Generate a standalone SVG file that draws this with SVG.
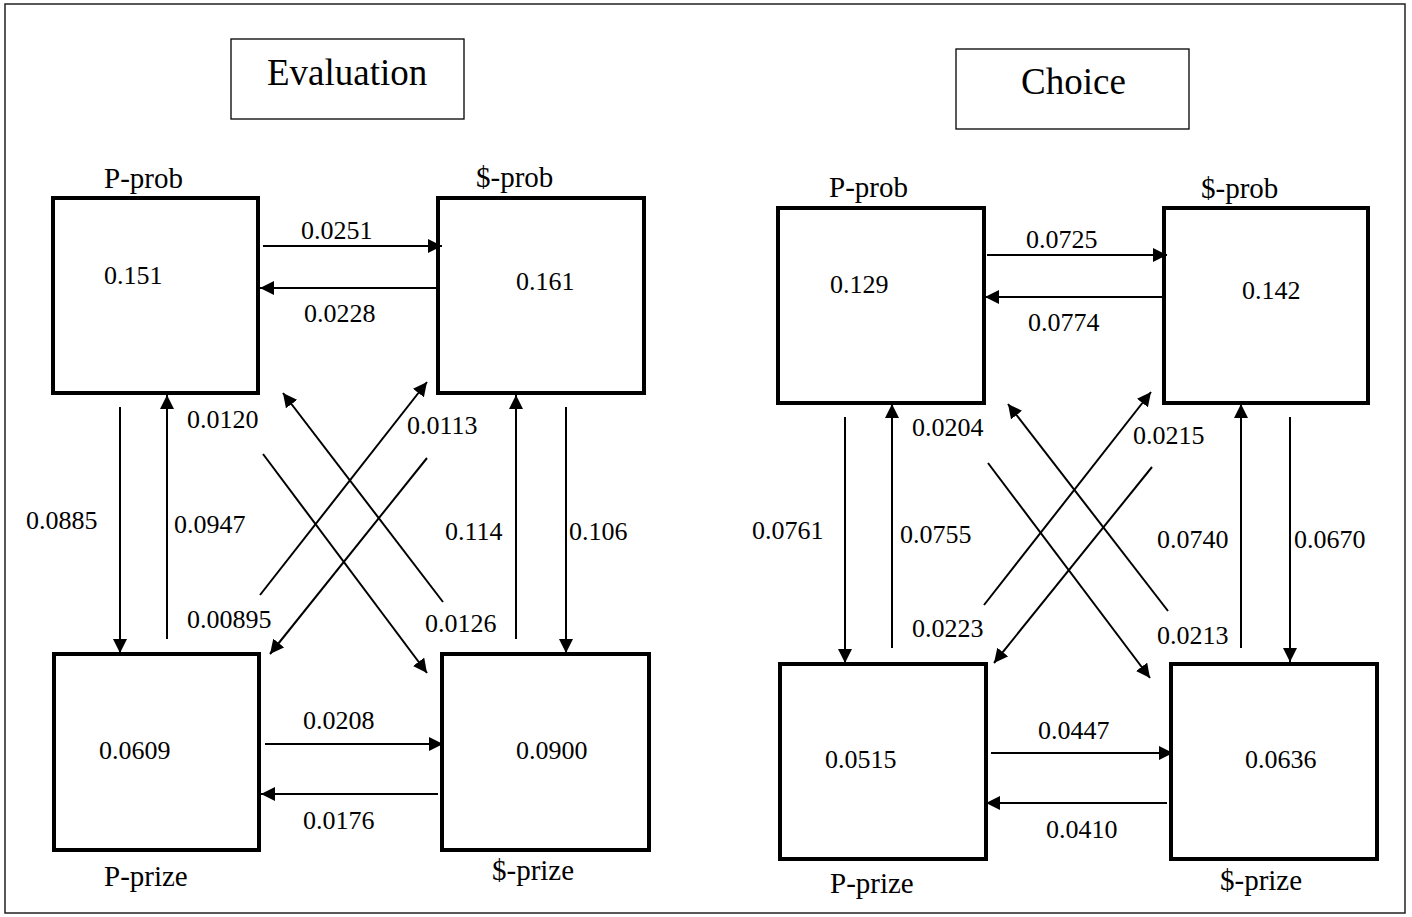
<svg xmlns="http://www.w3.org/2000/svg" width="1412" height="917" viewBox="0 0 1412 917">
<defs>
<marker id="ah" markerUnits="userSpaceOnUse" markerWidth="15" markerHeight="14" refX="14" refY="7" orient="auto" viewBox="0 0 15 14">
<path d="M0,0 L14,7 L0,14 z" fill="#000"/>
</marker>
</defs>
<style>
text{font-family:"Liberation Serif","Times New Roman",serif;fill:#000}
.t{font-size:37px}
.n{font-size:29px}
.v{font-size:26px}
.box{fill:#fff;stroke:#000;stroke-width:4}
.title{fill:#fff;stroke:#000;stroke-width:1.3}
.c line{stroke:#000;stroke-width:2;marker-end:url(#ah)}
</style>
<rect x="0" y="0" width="1412" height="917" fill="#fff"/>
<rect x="5" y="4" width="1400" height="909" fill="none" stroke="#222" stroke-width="1.5"/>

<g id="title-evaluation">
<rect class="title" x="231" y="39" width="233" height="80"/>
<text class="t" x="267" y="85">Evaluation</text>
</g>
<g id="title-choice">
<rect class="title" x="956" y="49" width="233" height="80"/>
<text class="t" x="1021" y="94">Choice</text>
</g>

<!-- Evaluation nodes -->
<g id="eval-p-prob">
<rect class="box" x="53" y="198" width="205" height="195"/>
<text class="n" x="104" y="188">P-prob</text>
<text class="v" x="104" y="284">0.151</text>
</g>
<g id="eval-s-prob">
<rect class="box" x="438" y="198" width="206" height="195"/>
<text class="n" x="476" y="187">$-prob</text>
<text class="v" x="516" y="290">0.161</text>
</g>
<g id="eval-p-prize">
<rect class="box" x="54" y="654" width="205" height="196"/>
<text class="n" x="104" y="886">P-prize</text>
<text class="v" x="99" y="759">0.0609</text>
</g>
<g id="eval-s-prize">
<rect class="box" x="442" y="654" width="207" height="196"/>
<text class="n" x="492" y="880">$-prize</text>
<text class="v" x="516" y="759">0.0900</text>
</g>

<!-- Choice nodes -->
<g id="choice-p-prob">
<rect class="box" x="778" y="208" width="206" height="195"/>
<text class="n" x="829" y="197">P-prob</text>
<text class="v" x="830" y="293">0.129</text>
</g>
<g id="choice-s-prob">
<rect class="box" x="1164" y="208" width="204" height="195"/>
<text class="n" x="1201" y="198">$-prob</text>
<text class="v" x="1242" y="299">0.142</text>
</g>
<g id="choice-p-prize">
<rect class="box" x="780" y="664" width="206" height="195"/>
<text class="n" x="830" y="893">P-prize</text>
<text class="v" x="825" y="768">0.0515</text>
</g>
<g id="choice-s-prize">
<rect class="box" x="1171" y="664" width="206" height="195"/>
<text class="n" x="1220" y="890">$-prize</text>
<text class="v" x="1245" y="768">0.0636</text>
</g>

<g id="connectors" class="c">
<!-- Evaluation -->
<line x1="263" y1="246" x2="442" y2="246"/>
<line x1="437" y1="288" x2="260" y2="288"/>
<line x1="265" y1="744" x2="443" y2="744"/>
<line x1="438" y1="794" x2="261" y2="794"/>
<line x1="120" y1="407" x2="120" y2="653"/>
<line x1="167" y1="639" x2="167" y2="395"/>
<line x1="516" y1="639" x2="516" y2="395"/>
<line x1="566" y1="407" x2="566" y2="653"/>
<line x1="260" y1="595" x2="427" y2="382"/>
<line x1="427" y1="458" x2="270" y2="654"/>
<line x1="263" y1="454" x2="427" y2="673"/>
<line x1="443" y1="602" x2="283" y2="393"/>
<!-- Choice -->
<line x1="987" y1="255" x2="1167" y2="255"/>
<line x1="1162" y1="297" x2="985" y2="297"/>
<line x1="991" y1="753" x2="1173" y2="753"/>
<line x1="1167" y1="803" x2="986" y2="803"/>
<line x1="845" y1="417" x2="845" y2="663"/>
<line x1="892" y1="648" x2="892" y2="404"/>
<line x1="1241" y1="648" x2="1241" y2="404"/>
<line x1="1290" y1="417" x2="1290" y2="662"/>
<line x1="988" y1="463" x2="1150" y2="678"/>
<line x1="1168" y1="611" x2="1008" y2="404"/>
<line x1="984" y1="605" x2="1151" y2="392"/>
<line x1="1152" y1="467" x2="994" y2="663"/>
</g>

<g id="connector-labels" class="v">
<text class="v" x="301" y="239">0.0251</text>
<text class="v" x="304" y="322">0.0228</text>
<text class="v" x="303" y="729">0.0208</text>
<text class="v" x="303" y="829">0.0176</text>
<text class="v" x="26" y="529">0.0885</text>
<text class="v" x="174" y="533">0.0947</text>
<text class="v" x="445" y="540">0.114</text>
<text class="v" x="569" y="540">0.106</text>
<text class="v" x="187" y="428">0.0120</text>
<text class="v" x="407" y="434">0.0113</text>
<text class="v" x="187" y="628">0.00895</text>
<text class="v" x="425" y="632">0.0126</text>

<text class="v" x="1026" y="248">0.0725</text>
<text class="v" x="1028" y="331">0.0774</text>
<text class="v" x="1038" y="739">0.0447</text>
<text class="v" x="1046" y="838">0.0410</text>
<text class="v" x="752" y="539">0.0761</text>
<text class="v" x="900" y="543">0.0755</text>
<text class="v" x="1157" y="548">0.0740</text>
<text class="v" x="1294" y="548">0.0670</text>
<text class="v" x="912" y="436">0.0204</text>
<text class="v" x="1133" y="444">0.0215</text>
<text class="v" x="912" y="637">0.0223</text>
<text class="v" x="1157" y="644">0.0213</text>
</g>
</svg>
